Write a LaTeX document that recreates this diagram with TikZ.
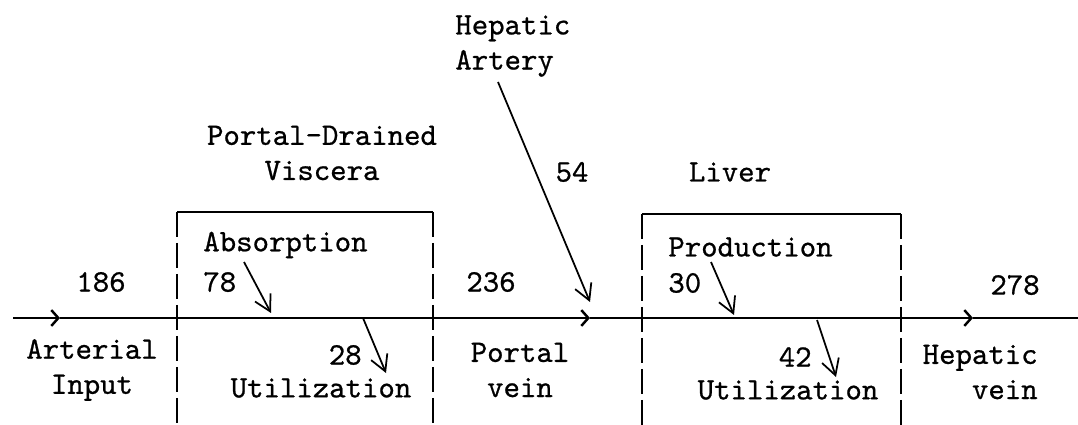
\documentclass[tikz,border=0pt]{standalone}
\usepackage{fontspec}
\newfontfamily\typewriter{lmmono10-regular.otf}[FakeBold=0.7]
\usetikzlibrary{positioning,arrows.meta,calc}
\tikzset{>={Straight Barb[length=9pt,width=10pt]}}
\tikzset{mytext/.style={font=\typewriter\fontsize{17.8}{20}\selectfont,inner sep=0pt,align=center}}
\tikzset{myflow/.style={line width=0.7pt,-{Straight Barb[length=4pt,width=9pt,line width=1.4pt]}}}
\tikzset{myarrows/.style={line width=1pt,->}}
\tikzset{mybox/.style={line width=0.7pt}}
\tikzset{myside/.style={line width=0.7pt,dash pattern=on 0.5cm off 0.12cm}}
\begin{document}
\begin{tikzpicture}[x=0.02cm,y=-0.02cm]

        \useasboundingbox (0,0) rectangle (1078,425);

        % labels
        \node[mytext,anchor=west,align=left] (artery) at (455,46) {Hepatic\\Artery};
        \node[mytext] (pdv)   at (322,153) {Portal-Drained\\Viscera};
        \node[mytext] (liver) at (730,172) {Liver};
        \node[mytext] (n54)   at (572,172) {54};
        \node[mytext,anchor=west] (absorb) at (203,245) {Absorption};
        \node[mytext,anchor=west] (n78)    at (203,282) {78};
        \node[mytext,anchor=west] (prod)   at (668,247) {Production};
        \node[mytext,anchor=west] (n30)    at (668,283) {30};
        \node[mytext] (n186) at (101,282) {186};
        \node[mytext] (n236) at (491,282) {236};
        \node[mytext] (n278) at (1015,285) {278};
        \node[mytext] (arterial) at (92,370) {Arterial\\Input};
        \node[mytext] (portal)   at (520,370) {Portal\\vein};
        \node[mytext,anchor=east,align=right] (hepvein) at (1038,372) {Hepatic\\vein};
        \node[mytext,anchor=east] (n28) at (362,355) {28};
        \node[mytext,anchor=east] (n42) at (812,357) {42};
        \node[mytext] (util1) at (321,388) {Utilization};
        \node[mytext] (util2) at (788,390) {Utilization};

        % boxes
        \draw[mybox] (177,212) coordinate (b1a) -- (433,212) coordinate (b1b);
        \draw[mybox] (642,214) coordinate (b2a) -- (901,214) coordinate (b2b);
        \foreach \c in {b1a,b1b,b2a,b2b} {
            \draw[myside] (\c) -- (\c |- 0,425);
        }

        % main flow
        \coordinate (in)  at (13,318);
        \coordinate (f1)  at (60,318);
        \coordinate (f2)  at (590,318);
        \coordinate (f3)  at (973,318);
        \coordinate (out) at (1078,318);
        \foreach \i/\j in {in/f1, f1/f2, f2/f3} {
            \draw[myflow] (\i) -- (\j);
        }
        \draw[mybox] (f3) -- (out);

        % side arrows
        \coordinate (a0) at (498,82);   \coordinate (a1) at (590,302);
        \coordinate (p0) at (244,262);  \coordinate (p1) at (271,313);
        \coordinate (u0) at (363,318);  \coordinate (u1) at (386,373);
        \coordinate (q0) at (711,262);  \coordinate (q1) at (734,315);
        \coordinate (v0) at (817,320);  \coordinate (v1) at (836,377);
        \foreach \i/\j in {a0/a1, p0/p1, u0/u1, q0/q1, v0/v1} {
            \draw[myarrows] (\i) -- (\j);
        }
    \end{tikzpicture}
\end{document}
